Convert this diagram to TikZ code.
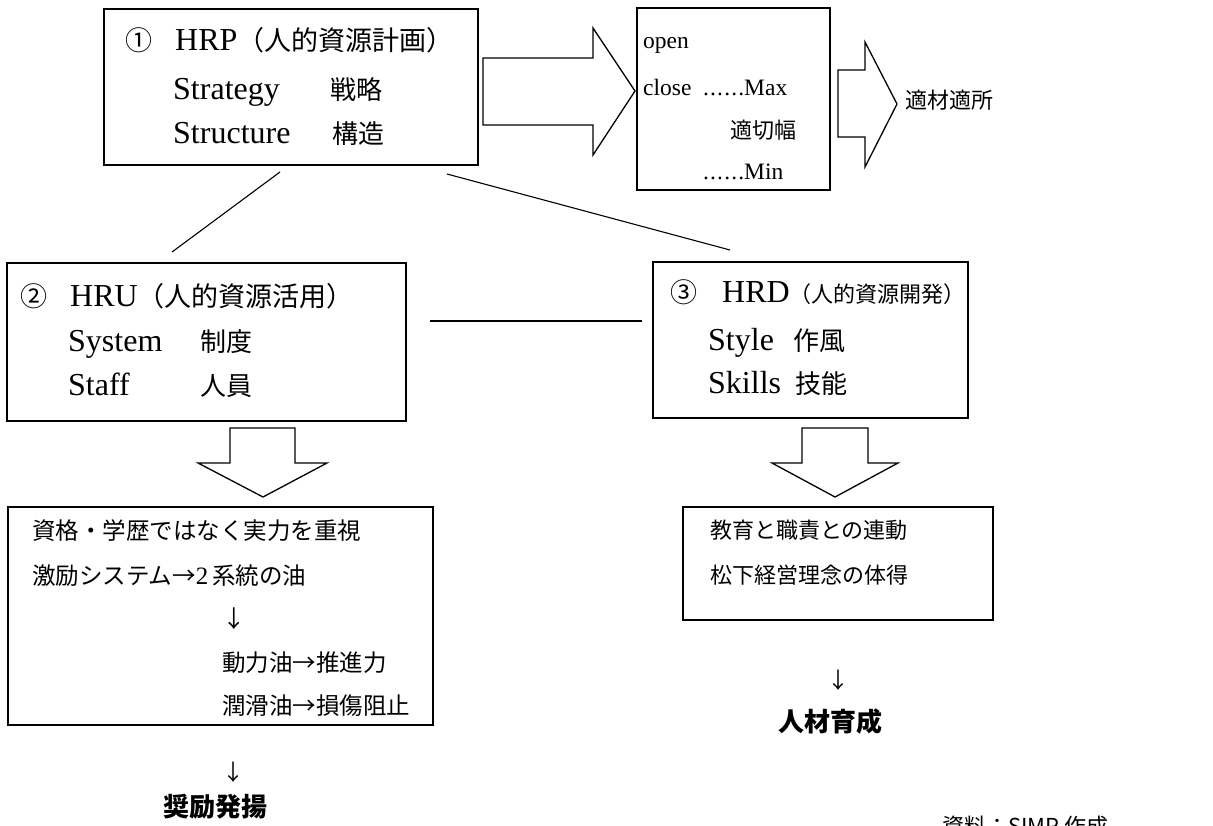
\documentclass[tikz,border=0pt]{standalone}
\usepackage{fontspec}
\setmainfont{Liberation Serif}
\newfontfamily\jp{Noto Sans CJK JP}
\newcommand\jt[1]{{\jp\fontsize{27}{30}\selectfont #1}}
\newcommand\jts[1]{{\jp\fontsize{22}{24}\selectfont #1}}
\newcommand\dotsix{\makebox[41pt][s]{.\hfill.\hfill.\hfill.\hfill.\hfill.}}
\begin{document}
\begin{tikzpicture}[x=1pt,y=-1pt,
  box/.style={draw, line width=1.3pt, inner sep=0pt},
  blk/.style={draw, line width=1.3pt, line join=miter, fill=white},
  conn/.style={line width=1.1pt},
  big/.style={anchor=base west, inner sep=0pt, font=\fontsize{32}{34}\selectfont},
  mid/.style={anchor=base west, inner sep=0pt, font=\fontsize{23.5}{26}\selectfont},
  circ/.style={anchor=base west, inner sep=0pt, font=\fontsize{27}{30}\selectfont\jp},
  jbig/.style={anchor=base west, inner sep=0pt, font=\fontsize{26}{30}\selectfont\jp},
  jmid/.style={anchor=base west, inner sep=0pt, font=\fontsize{23.5}{26}\selectfont\jp},
  jsm/.style={anchor=base west, inner sep=0pt, font=\fontsize{22}{24}\selectfont\jp},
  jbold/.style={inner sep=0pt, font=\fontsize{26}{28}\selectfont\jp\bfseries},
]
\clip (0,0) rectangle (1213,825);
\fill[white] (0,0) rectangle (1213,825);

% boxes
\node[box, minimum width=374pt, minimum height=156pt] (hrp) at (291,87) {};
\node[box, minimum width=193pt, minimum height=182pt] (oc) at (733.5,99) {};
\node[box, minimum width=399pt, minimum height=158pt] (hru) at (206.5,342) {};
\node[box, minimum width=315pt, minimum height=156pt] (hrd) at (810.5,340) {};
\node[box, minimum width=425pt, minimum height=218pt] (res1) at (220.5,616) {};
\node[box, minimum width=310pt, minimum height=113pt] (res2) at (838,563.5) {};

% block arrows
\draw[blk] (483,58) -- (593,58) -- (593,28) -- (635,91) -- (593,155) -- (593,125) -- (483,125) -- cycle;
\draw[blk] (838,70) -- (865,70) -- (865,42) -- (897,104) -- (865,167) -- (865,137) -- (838,137) -- cycle;
\draw[blk] (230,428) -- (295,428) -- (295,463) -- (327,463) -- (263,497) -- (198,463) -- (230,463) -- cycle;
\draw[blk] (802,428) -- (868,428) -- (868,463) -- (898,463) -- (835,497) -- (772,463) -- (802,463) -- cycle;

% connectors
\coordinate (l1a) at (280,172); \coordinate (l1b) at (172,252);
\coordinate (l2a) at (447,174); \coordinate (l2b) at (730,250);
\coordinate (l3a) at (430,321); \coordinate (l3b) at (642,321);
\draw[conn] (l1a) -- (l1b);
\draw[conn] (l2a) -- (l2b);
\draw[conn] (l3a) -- (l3b);

% box 1
\node[circ] (t1a) at (125,50) {①};
\node[big] (t1b) at (175,50) {HRP\jt{（人的資源計画）}};
\node[big] (t1c) at (173,99) {Strategy};
\node[jbig] (t1d) at (330,99) {戦略};
\node[big] (t1e) at (173,143) {Structure};
\node[jbig] (t1f) at (332,143) {構造};

% box 2
\node[mid] (t2a) at (643,48) {open};
\node[mid] (t2b) at (643,95) {close};
\node[mid] (t2c) at (703,95) {\dotsix Max};
\node[jsm] (t2d) at (730,138) {適切幅};
\node[mid] (t2e) at (703,179) {\dotsix Min};
\node[jsm] (t2f) at (905,108) {適材適所};

% box 3
\node[circ] (t3a) at (20,306) {②};
\node[big] (t3b) at (70,306) {HRU\jt{（人的資源活用）}};
\node[big] (t3c) at (68,351) {System};
\node[jbig] (t3d) at (200,351) {制度};
\node[big] (t3e) at (68,395) {Staff};
\node[jbig] (t3f) at (200,395) {人員};

% box 4
\node[circ] (t4a) at (670,302) {③};
\node[big] (t4b) at (722,302) {HRD\jts{（人的資源開発）}};
\node[big] (t4c) at (708,350) {Style};
\node[jbig] (t4d) at (793,350) {作風};
\node[big] (t4e) at (708,393) {Skills};
\node[jbig] (t4f) at (795,393) {技能};

% box 5
\node[jmid] (t5a) at (32,539) {資格・学歴ではなく実力を重視};
\node[jmid] (t5b) at (32,584) {激励システム→\textrm{\fontsize{25}{26}\selectfont 2}\,系統の油};
\node[jmid] (t5c) at (222,627) {↓};
\node[jmid] (t5d) at (222,671) {動力油→推進力};
\node[jmid] (t5e) at (222,714) {潤滑油→損傷阻止};

% box 6
\node[jsm] (t6a) at (710,538) {教育と職責との連動};
\node[jsm] (t6b) at (710,583) {松下経営理念の体得};

% results
\node[jsm, anchor=center] (d1) at (838,680) {↓};
\node[jbold] (r2) at (830,722) {人材育成};
\node[jsm, anchor=center] (d2) at (233,772) {↓};
\node[jbold] (r1) at (215,807) {奨励発揚};

\node[jsm] (src) at (942,834) {資料：SIMP 作成};
\end{tikzpicture}
\end{document}
